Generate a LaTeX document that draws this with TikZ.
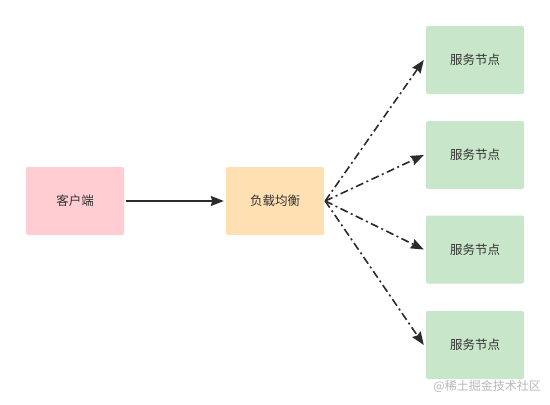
\documentclass[tikz,border=0pt]{standalone}
\usepackage{fontspec}
\newfontfamily\cjk{Noto Sans CJK SC}
\usetikzlibrary{arrows.meta}
\definecolor{pinkfill}{HTML}{FFCDD2}
\definecolor{orangefill}{HTML}{FFE0B2}
\definecolor{greenfill}{HTML}{C8E6C9}
\definecolor{txt}{HTML}{333333}
\definecolor{edge}{HTML}{2B2B2B}
\definecolor{wm}{HTML}{B8B8B8}
\begin{document}
\begin{tikzpicture}[x=1pt,y=-1pt,
  box/.style={rounded corners=2pt,minimum width=98pt,minimum height=68pt,inner sep=0pt,
    font=\cjk\fontsize{12.5}{15}\selectfont,text=txt},
  solidarrow/.style={draw=edge,line width=1.6pt,-{Stealth[length=13pt,width=10pt,inset=1.5pt]}},
  dasharrow/.style={draw=edge,line width=1.6pt,dash pattern=on 8pt off 3.5pt on 2pt off 3.5pt,
    -{Stealth[length=13pt,width=10pt,inset=1.5pt]}}]
\useasboundingbox (0,0) rectangle (550,405);
\fill[white] (0,0) rectangle (550,405);
\node[box,fill=pinkfill] (client) at (75,201) {客户端};
\node[box,fill=orangefill] (lb) at (275,201) {负载均衡};
\node[box,fill=greenfill] (s1) at (475,60) {服务节点};
\node[box,fill=greenfill] (s2) at (475,155) {服务节点};
\node[box,fill=greenfill] (s3) at (475,249.5) {服务节点};
\node[box,fill=greenfill] (s4) at (475,345) {服务节点};
\draw[solidarrow] ([xshift=2pt]client.east) -- ([xshift=-2pt]lb.west);
\coordinate (o) at ([xshift=1pt]lb.east);
\draw[dasharrow] (o) -- ([xshift=-2pt]s1.west);
\draw[dasharrow] (o) -- ([xshift=-2pt]s2.west);
\draw[dasharrow] (o) -- ([xshift=-2pt]s3.west);
\draw[dasharrow] (o) -- ([xshift=-2pt]s4.west);
\node[font=\cjk\fontsize{12}{14}\selectfont,text=wm,anchor=east,inner sep=0pt] (wmk) at (541,386) {@稀土掘金技术社区};
\end{tikzpicture}
\end{document}
